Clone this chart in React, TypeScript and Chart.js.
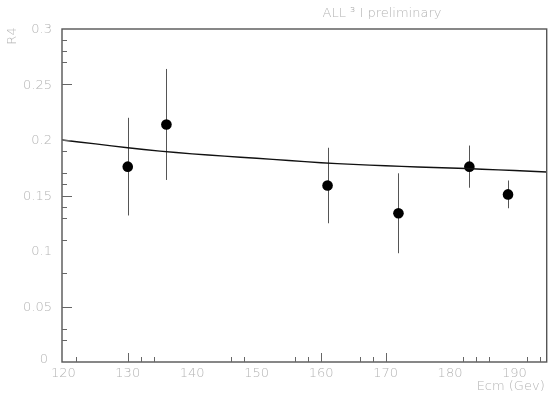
import { useEffect, useRef } from "react";
import { Chart, registerables } from "chart.js";

Chart.register(...registerables);

// Measured points: centre-of-mass energy, rate and its error
const energies = [130, 136, 161, 172, 183, 189];
const rates = [0.176, 0.214, 0.159, 0.134, 0.176, 0.151];
const errors = [0.044, 0.05, 0.034, 0.036, 0.019, 0.0125];

// Fitted curve
const fitEnergies = [119.8, 125, 130, 135, 140, 145, 150, 155, 160, 165, 170, 175, 180, 185, 190, 195];
const fitRates = [0.2, 0.1965, 0.193, 0.19, 0.1875, 0.1855, 0.1835, 0.1815, 0.1795, 0.178, 0.1768, 0.1757, 0.1748, 0.1737, 0.1725, 0.1712];

// Axis ticks
const xLabels = [120, 130, 140, 150, 160, 170, 180, 190];
const xMajorTicks = [130, 160, 170];
const xMinorTicks = [122, 132, 134, 146, 148, 156, 158, 166, 168, 182, 184, 186, 192, 194];
const yLabels = ["0", "0.05", "0.1", "0.15", "0.2", "0.25", "0.3"];
const yMajorTicks = [0.05, 0.15, 0.2, 0.25];
const yMinorTicks = [0.02, 0.03, 0.08, 0.11, 0.13, 0.14, 0.16, 0.17, 0.19, 0.27, 0.28, 0.29];

const titleText = "ALL \u00b3 I preliminary";
const xTitle = "Ecm (Gev)";
const yTitle = "R4";

const TEXT = "#b4b4b4";
const AXIS = "#555555";
const FONT = "300 13px 'DejaVu Sans', sans-serif";

const framePlugin = {
  id: "frame",
  beforeDatasetsDraw(chart: any) {
    const { ctx, scales } = chart;
    const xs = scales.x;
    const ys = scales.y;
    ctx.save();
    // error bars
    ctx.strokeStyle = "#555555";
    ctx.lineWidth = 1;
    energies.forEach((e, i) => {
      const px = Math.round(xs.getPixelForValue(e)) + 0.5;
      ctx.beginPath();
      ctx.moveTo(px, ys.getPixelForValue(rates[i] + errors[i]));
      ctx.lineTo(px, ys.getPixelForValue(rates[i] - errors[i]));
      ctx.stroke();
    });
    ctx.restore();
  },
  afterDraw(chart: any) {
    const { ctx, chartArea: a, scales } = chart;
    const xs = scales.x;
    const ys = scales.y;
    ctx.save();
    // box
    ctx.strokeStyle = AXIS;
    ctx.lineWidth = 1.4;
    ctx.strokeRect(a.left, a.top, a.right - a.left, a.bottom - a.top);

    // ticks, drawn inwards
    ctx.lineWidth = 1;
    ctx.strokeStyle = "#666666";
    const xTick = (v: number, len: number) => {
      const px = Math.round(xs.getPixelForValue(v)) + 0.5;
      ctx.beginPath();
      ctx.moveTo(px, a.bottom);
      ctx.lineTo(px, a.bottom - len);
      ctx.stroke();
    };
    const yTick = (v: number, len: number) => {
      const py = Math.round(ys.getPixelForValue(v)) + 0.5;
      ctx.beginPath();
      ctx.moveTo(a.left, py);
      ctx.lineTo(a.left + len, py);
      ctx.stroke();
    };
    xMajorTicks.forEach((v) => xTick(v, 9));
    xMinorTicks.forEach((v) => xTick(v, 5));
    yMajorTicks.forEach((v) => yTick(v, 10));
    yMinorTicks.forEach((v) => yTick(v, 5));

    // labels
    ctx.fillStyle = TEXT;
    ctx.font = FONT;
    ctx.textBaseline = "middle";
    ctx.textAlign = "center";
    xLabels.forEach((v) => {
      ctx.fillText(String(v), xs.getPixelForValue(v), a.bottom + 12);
    });
    ctx.textAlign = "right";
    yLabels.forEach((s) => {
      const v = parseFloat(s);
      const dy = v === 0 ? -2 : 1;
      ctx.fillText(s, v === 0 ? a.left - 14 : a.left - 10, ys.getPixelForValue(v) + dy);
    });

    // axis titles
    ctx.textAlign = "right";
    ctx.fillText(xTitle, a.right - 2, a.bottom + 25);
    ctx.save();
    ctx.translate(13, a.top + 7);
    ctx.rotate(-Math.PI / 2);
    ctx.textAlign = "center";
    ctx.fillText(yTitle, 0, 0);
    ctx.restore();

    // title
    ctx.textAlign = "center";
    ctx.fillText(titleText, 382, 14);
    ctx.restore();
  },
};

export default function App() {
  const ref = useRef<HTMLCanvasElement | null>(null);

  useEffect(() => {
    if (!ref.current) return;
    const chart = new Chart(ref.current, {
      type: "scatter",
      data: {
        datasets: [
          {
            type: "line",
            data: fitEnergies.map((e, i) => ({ x: e, y: fitRates[i] })),
            borderColor: "#111111",
            borderWidth: 1.4,
            pointRadius: 0,
            tension: 0.3,
            fill: false,
          },
          {
            data: energies.map((e, i) => ({ x: e, y: rates[i] })),
            backgroundColor: "#000000",
            borderColor: "#000000",
            pointRadius: 5.3,
            borderWidth: 0,
          },
        ],
      },
      options: {
        animation: false,
        responsive: false,
        maintainAspectRatio: false,
        layout: { padding: { left: 62, top: 29, right: 5, bottom: 39 } },
        plugins: { legend: { display: false }, tooltip: { enabled: false } },
        scales: {
          x: { type: "linear", min: 119.8, max: 195, display: false },
          y: { type: "linear", min: 0, max: 0.3, display: false },
        },
      },
      plugins: [framePlugin],
    });
    return () => chart.destroy();
  }, []);

  return (
    <div style={{ position: "fixed", left: 0, top: 0, width: 552, height: 401, background: "#fff" }}>
      <canvas ref={ref} width={552} height={401} style={{ width: 552, height: 401, display: "block" }} />
    </div>
  );
}
